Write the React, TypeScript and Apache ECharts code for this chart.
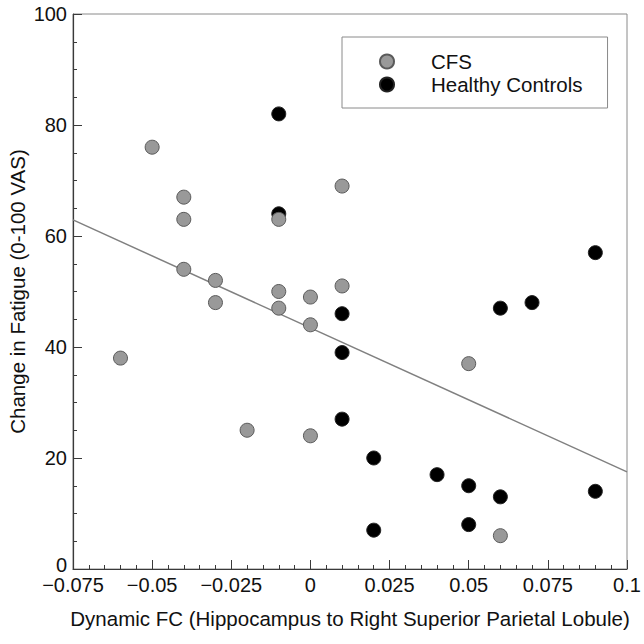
import React, { useEffect, useRef } from 'react';
import * as echarts from 'echarts';

// CFS group (grey)
const cfsX = [-0.05, -0.04, -0.04, -0.04, -0.03, -0.03, -0.06, -0.02, -0.01, -0.01, -0.01, 0, 0, 0, 0.01, 0.01, 0.05, 0.06];
const cfsY = [76, 67, 63, 54, 52, 48, 38, 25, 63, 50, 47, 49, 44, 24, 69, 51, 37, 6];
// Healthy controls (black)
const hcX = [-0.01, -0.01, 0.01, 0.01, 0.01, 0.02, 0.02, 0.04, 0.05, 0.05, 0.06, 0.06, 0.07, 0.09, 0.09];
const hcY = [82, 64, 46, 39, 27, 20, 7, 17, 15, 8, 13, 47, 48, 57, 14];
// regression line end points
const fitX = [-0.075, 0.1];
const fitY = [62.9, 17.5];

const xTickLabels = ['\u22120.075', '\u22120.05', '\u22120.025', '0', '0.025', '0.05', '0.075', '0.1'];
const yTickLabels = ['0', '20', '40', '60', '80', '100'];

const seriesNames = ['CFS', 'Healthy Controls'];
const xName = 'Dynamic FC (Hippocampus to Right Superior Parietal Lobule)';
const yName = 'Change in Fatigue (0-100 VAS)';

const FONT = '"Liberation Sans", Arial, Helvetica, sans-serif';

export default function App() {
  const ref = useRef<HTMLDivElement>(null);
  useEffect(() => {
    if (!ref.current) return;
    const chart = echarts.init(ref.current, undefined, { renderer: 'svg' });
    const zip = (xs: number[], ys: number[]) => xs.map((x, i) => [x, ys[i]]);
    const axisCommon = {
      axisLine: { show: true, onZero: false, lineStyle: { color: '#3a3a3a', width: 1.2 } },
      axisTick: { show: true, inside: true, length: 9, lineStyle: { color: '#3a3a3a', width: 1 } },
      minorTick: { show: true, length: 4, lineStyle: { color: '#3a3a3a', width: 1 } },
      splitLine: { show: false },
      minorSplitLine: { show: false },
      axisLabel: { color: '#111', fontSize: 20, fontFamily: FONT, margin: 6 },
      nameLocation: 'middle' as const,
      nameMoveOverlap: false,
      nameTextStyle: { color: '#111', fontSize: 20.5, fontFamily: FONT },
    };
    chart.setOption({
      animation: false,
      backgroundColor: '#fff',
      grid: {
        left: 73, right: 17, top: 14, bottom: 75,
        containLabel: false, outerBoundsMode: 'none',
        show: true, borderColor: '#8a8a8a', borderWidth: 1,
      },
      xAxis: {
        ...axisCommon,
        type: 'value',
        min: -0.075,
        max: 0.1,
        interval: 0.025,
        minorTick: { ...axisCommon.minorTick, splitNumber: 5 },
        axisLabel: { ...axisCommon.axisLabel, formatter: (_v: number, i: number) => xTickLabels[i] },
        name: xName,
        nameGap: 39,
      },
      yAxis: {
        ...axisCommon,
        type: 'value',
        min: 0,
        max: 100,
        interval: 20,
        minorTick: { ...axisCommon.minorTick, splitNumber: 4 },
        axisLabel: {
          ...axisCommon.axisLabel,
          formatter: (_v: number, i: number) => (i === 0 ? '{z|' + yTickLabels[i] + '}' : yTickLabels[i]),
          rich: { z: { color: '#111', fontSize: 20, fontFamily: FONT, padding: [0, 0, 9, 0] } },
        },
        name: yName,
        nameGap: 45,
      },
      legend: {
        data: seriesNames,
        orient: 'vertical',
        left: 342,
        top: 37,
        padding: [14, 25, 13, 37],
        itemGap: 2,
        itemWidth: 78,
        itemHeight: 14,
        borderColor: '#8a8a8a',
        borderWidth: 1,
        textStyle: { color: '#111', fontSize: 20.5, fontFamily: FONT },
        selectedMode: false,
      },
      series: [
        {
          type: 'line',
          name: 'fit',
          data: zip(fitX, fitY),
          showSymbol: false,
          symbol: 'none',
          lineStyle: { color: '#808080', width: 1.5 },
          silent: true,
          z: 1,
        },
        {
          type: 'scatter',
          name: seriesNames[1],
          data: zip(hcX, hcY),
          symbol: 'circle',
          symbolSize: 14,
          itemStyle: { color: '#000', borderColor: '#222', borderWidth: 1, opacity: 1 },
          z: 2,
        },
        {
          type: 'scatter',
          name: seriesNames[0],
          data: zip(cfsX, cfsY),
          symbol: 'circle',
          symbolSize: 14,
          itemStyle: { color: '#999999', borderColor: '#5a5a5a', borderWidth: 1, opacity: 1 },
          z: 3,
        },
      ],
    });
    return () => chart.dispose();
  }, []);
  return <div ref={ref} style={{ position: 'fixed', left: 0, top: 0, width: 644, height: 644 }} />;
}
